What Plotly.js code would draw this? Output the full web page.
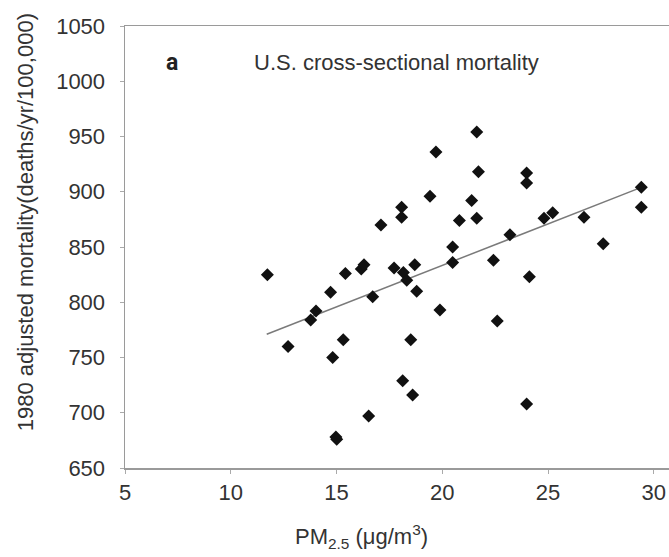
<!DOCTYPE html>
<html>
<head>
<meta charset="utf-8">
<script src="https://cdn.plot.ly/plotly-3.0.1.min.js"></script>
<style>html,body{margin:0;padding:0;background:#fff;}#chart{width:669px;height:557px;}</style>
</head>
<body>
<div id="chart"></div>
<script>
// PM2.5 concentration (ug/m3) per city
const pm25 = [
  11.73, 12.71, 13.78, 14.03, 14.72, 14.82, 14.97, 15.01, 15.32, 15.42,
  16.17, 16.30, 16.52, 16.71, 17.10, 17.72, 18.08, 18.08, 18.13, 18.16,
  18.32, 18.51, 18.60, 18.70, 18.79, 19.42, 19.70, 19.89, 20.49, 20.49,
  20.81, 21.39, 21.63, 21.63, 21.71, 22.42, 22.60, 23.20, 23.99, 23.99,
  23.99, 24.12, 24.81, 25.22, 26.70, 27.61, 29.41, 29.41
];
// 1980 adjusted mortality (deaths/yr/100,000)
const mortality = [
  825, 760, 784, 792, 809, 750, 678, 676, 766, 826,
  830, 834, 697, 805, 870, 831, 886, 877, 729, 827,
  820, 766, 716, 834, 810, 896, 936, 793, 850, 836,
  874, 892, 954, 876, 918, 838, 783, 861, 917, 908,
  708, 823, 876, 881, 877, 853, 904, 886
];
// Fitted regression line endpoints
const fitX = [11.7, 29.41];
const fitY = [771, 904];

const xTicks = [5, 10, 15, 20, 25, 30];
const yTicks = [650, 700, 750, 800, 850, 900, 950, 1000, 1050];

const font = 'Liberation Sans';
const txt = '#333333';

const traces = [
  {
    x: fitX, y: fitY, type: 'scatter', mode: 'lines',
    line: {color: '#7a7a7a', width: 1.5},
    hoverinfo: 'skip', showlegend: false
  },
  {
    x: pm25, y: mortality, type: 'scatter', mode: 'markers',
    marker: {symbol: 'diamond', size: 10, color: '#111111'},
    showlegend: false
  }
];

const layout = {
  width: 669, height: 557,
  margin: {l: 125, r: 0, t: 25.5, b: 89, pad: 0},
  paper_bgcolor: '#ffffff', plot_bgcolor: '#ffffff',
  font: {family: font, size: 22, color: txt},
  showlegend: false,
  xaxis: {
    range: [5, 30.72], tickvals: xTicks, ticktext: xTicks.map(String),
    showgrid: false, zeroline: false,
    showline: true, linecolor: '#9a9a9a', linewidth: 1.5, mirror: true,
    ticks: 'outside', ticklen: 4, tickcolor: '#aaaaaa', tickwidth: 1,
    tickfont: {family: font, size: 22, color: txt}
  },
  yaxis: {
    range: [650, 1050], tickvals: yTicks, ticktext: yTicks.map(String),
    showgrid: false, zeroline: false,
    showline: true, linecolor: '#9a9a9a', linewidth: 1.5, mirror: false,
    ticks: 'outside', ticklen: 4, tickcolor: '#aaaaaa', tickwidth: 1,
    ticklabelstandoff: 10,
    tickfont: {family: font, size: 22, color: txt}
  },
  annotations: [
    {
      text: 'a', xref: 'paper', yref: 'paper',
      x: (172 - 125) / 544, y: (468 - 62) / 442.5,
      xanchor: 'center', yanchor: 'middle', showarrow: false,
      font: {family: 'Roboto', size: 23, color: '#222222', weight: 'bold'}
    },
    {
      text: 'U.S. cross-sectional mortality', xref: 'paper', yref: 'paper',
      x: (252 - 125) / 544, y: (468 - 62) / 442.5,
      xanchor: 'left', yanchor: 'middle', showarrow: false,
      font: {family: font, size: 22, color: txt}
    },
    {
      text: 'PM<sub>2.5</sub> (μg/m<sup>3</sup>)', xref: 'paper', yref: 'paper',
      x: (361 - 125) / 544, y: -(537 - 468) / 442.5,
      xanchor: 'center', yanchor: 'middle', showarrow: false,
      font: {family: font, size: 22, color: txt}
    },
    {
      text: '1980 adjusted mortality(deaths/yr/100,000)', xref: 'paper', yref: 'paper',
      x: -(125 - 25) / 544, y: (468 - 222) / 442.5,
      xanchor: 'center', yanchor: 'middle', textangle: -90, showarrow: false,
      font: {family: font, size: 22, color: txt}
    }
  ]
};

Plotly.newPlot('chart', traces, layout, {displayModeBar: false, staticPlot: true});
</script>
</body>
</html>
